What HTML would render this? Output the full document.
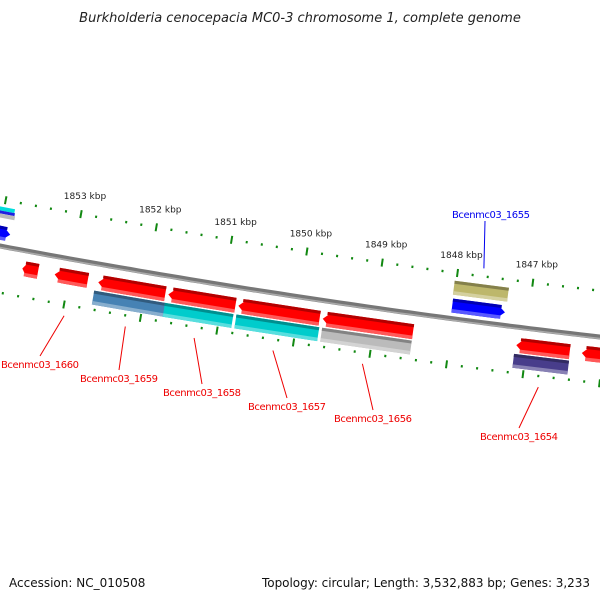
<!DOCTYPE html>
<html><head><meta charset="utf-8"><style>
html,body{margin:0;padding:0;background:#fff;width:600px;height:600px;overflow:hidden}
svg{display:block;font-family:"DejaVu Sans","Liberation Sans",sans-serif}
</style></head><body>
<svg id="map" width="600" height="600" viewBox="0 0 600 600">
<text x="300" y="22" text-anchor="middle" font-style="italic" font-size="13" fill="#222">Burkholderia cenocepacia MC0-3 chromosome 1, complete genome</text>
<text x="9" y="587" font-size="12" fill="#111">Accession: NC_010508</text>
<text x="590" y="587" text-anchor="end" font-size="12" fill="#111" textLength="328">Topology: circular; Length: 3,532,883 bp; Genes: 3,233</text>
<g id="layer"></g>
</svg>
<script>
// Data
var majorKbp = [1853, 1852, 1851, 1850, 1849, 1848, 1847];
var tickLabels = ["1853 kbp","1852 kbp","1851 kbp","1850 kbp","1849 kbp","1848 kbp","1847 kbp"];
var geneStart = [1853.78,1853.35,1852.77,1851.84,1850.91,1849.79,1847.22,1846.35, 1852.84,1851.90,1850.95,1849.81,1847.26, 1848.05,1848.07, 1854.34,1854.34,1854.34,1854.34];
var geneEnd   = [1853.57,1852.91,1851.88,1850.95,1849.83,1848.59,1846.51,1845.80, 1851.88,1850.99,1849.85,1848.62,1846.53, 1847.33,1847.37, 1853.88,1853.88,1853.88,1853.94];
var geneTrack = ["r","r","r","r","r","r","r","r", "c","c","c","c","c", "o","b", "e1","e2","e3","b"];
var geneColor = ["#ff0000","#ff0000","#ff0000","#ff0000","#ff0000","#ff0000","#ff0000","#ff0000",
                 "#4682b4","#00cccc","#00cccc","#bbbbbb","#483d8b",
                 "#bdb76b","#0000ff", "#00dddd","#2020e0","#bbbbbb","#0000ff"];
var geneDir = [-1,-1,-1,-1,-1,-1,-1,-1, 0,0,0,0,0, 0,1, 0,0,0,1];
var labelNames = ["Bcenmc03_1660","Bcenmc03_1659","Bcenmc03_1658","Bcenmc03_1657","Bcenmc03_1656","Bcenmc03_1654","Bcenmc03_1655"];
var labelKbp = [1853.00,1852.20,1851.30,1850.27,1849.10,1846.80,1847.65];

var NS="http://www.w3.org/2000/svg";
var L=document.getElementById('layer');
function xOf(k){return 81+(1853-k)*75.3;}
function xIn(k){return 64+(1853-k)*76.5;}
function yb(x){return 246+0.1883*x-6.1e-5*x*x;}
function sl(x){return 0.1883-2*6.1e-5*x;}
function pt(x,off){
  var a=Math.atan(sl(x)); var xb=x+off*Math.sin(a); a=Math.atan(sl(xb));
  return [xb-off*Math.sin(a), yb(xb)+off*Math.cos(a), a*180/Math.PI];
}
function mk(t,attrs,parent){var e=document.createElementNS(NS,t);for(var k in attrs)e.setAttribute(k,attrs[k]);(parent||L).appendChild(e);return e;}

// backbone
var d="M-10,"+yb(-10).toFixed(1);
for(var x=0;x<=610;x+=10)d+=" L"+x+","+yb(x).toFixed(1);
var bb=mk('path',{d:d,stroke:"#777",'stroke-width':5,fill:"none"});


var bb2=mk('path',{d:d,stroke:"#aaa",'stroke-width':1.5,fill:"none",transform:"translate(0,1.5)"});



// ticks
function tickRing(off,fn,isOuter){
  var g=mk('g',{});
  
  
  for(var i=-10;i<=45;i++){
    var k=1853-i/5; var x=fn(k); if(x<-5||x>605)continue;
    var major=(i%5===0); var p=pt(x,off); var h=major?4:1.2;
    var ln=mk('line',{x1:-h,x2:h,y1:0,y2:0,stroke:"#118811",'stroke-width':2,transform:"translate("+p[0].toFixed(1)+","+p[1].toFixed(1)+") rotate("+(p[2]+90)+")"},g);
    
    
  }
}
tickRing(-46,xOf,true);
tickRing(46,xIn,false);
for(var i=0;i<majorKbp.length;i++){
  var x=xOf(majorKbp[i]); var p=pt(x,-46);
  var t=mk('text',{x:(p[0]+4).toFixed(1),y:(p[1]-15).toFixed(1),'text-anchor':'middle','font-size':9,fill:"#222"});
  t.textContent=tickLabels[i];
  
  
}

// genes
var trackOff={r:18,c:34,o:-31,b:-13,e1:-37,e2:-33.5,e3:-30};
var trackH={r:15,c:14,o:14,b:14,e1:4,e2:3,e3:4};
function shade(c,f){var n=parseInt(c.slice(1),16);var r=n>>16,g=(n>>8)&255,b=n&255;
  function m(v){return Math.max(0,Math.min(255,Math.round(f<0?v*(1+f):v+(255-v)*f)));}
  return "rgb("+m(r)+","+m(g)+","+m(b)+")";}
for(var i=0;i<geneStart.length;i++){
  var x1=xOf(geneStart[i]),x2=xOf(geneEnd[i]);var xc=(x1+x2)/2;
  var off=trackOff[geneTrack[i]],h=trackH[geneTrack[i]];
  var p=pt(xc,off);var len=(x2-x1)/Math.cos(p[2]*Math.PI/180);var hl=len/2,hh=h/2,ah=Math.min(8,len/3);
  var g=mk('g',{transform:"translate("+p[0].toFixed(1)+","+p[1].toFixed(1)+") rotate("+p[2].toFixed(2)+")"});
  
  
  var pts;
  if(geneDir[i]<0)pts=[[-hl,0],[-hl+ah,-hh],[hl,-hh],[hl,hh],[-hl+ah,hh]];
  else if(geneDir[i]>0)pts=[[-hl,-hh],[hl-ah,-hh],[hl,0],[hl-ah,hh],[-hl,hh]];
  else pts=[[-hl,-hh],[hl,-hh],[hl,hh],[-hl,hh]];
  var ps=pts.map(function(q){return q[0].toFixed(1)+","+q[1].toFixed(1);}).join(" ");
  mk('polygon',{points:ps,fill:geneColor[i]},g);
  if(h>6){
    var sx=-hl+(geneDir[i]<0?ah*0.5:0), sw=len-(geneDir[i]?ah*0.5:0);
    mk('rect',{x:sx.toFixed(1),y:(-hh).toFixed(1),width:sw.toFixed(1),height:3,fill:shade(geneColor[i],-0.3)},g);
    mk('rect',{x:sx.toFixed(1),y:(hh-3.5).toFixed(1),width:sw.toFixed(1),height:3.5,fill:shade(geneColor[i],0.35)},g);
  }
}

// labels
var labelPos=[[40,364,1],[119,378,1],[202,392,1],[287,406,1],[373,418,1],[519,436,1],[491,214,-1]];
for(var i=0;i<labelNames.length;i++){
  var blue=labelPos[i][2]<0; var col=blue?"#0000ee":"#ee0000";
  var x=blue?xOf(labelKbp[i]):xIn(labelKbp[i]); var p=pt(x,blue?-54:57);
  var tx=labelPos[i][0],ty=labelPos[i][1];
  var ln=mk('line',{x1:p[0].toFixed(1),y1:p[1].toFixed(1),x2:(blue?tx-6:tx),y2:blue?ty+7:ty-8,stroke:col,'stroke-width':1});
  
  
  var t=mk('text',{x:tx,y:ty+4,'text-anchor':'middle','font-size':10,fill:col,textLength:78});
  t.textContent=labelNames[i];
  
  
}
</script>
</body></html>
